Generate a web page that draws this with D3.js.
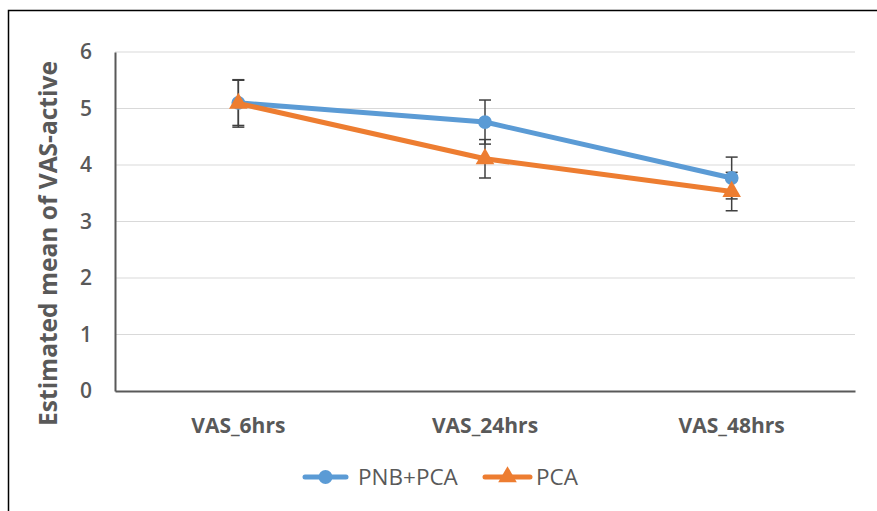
<!DOCTYPE html>
<html>
<head>
<meta charset="utf-8">
<script src="https://cdn.jsdelivr.net/npm/d3@7"></script>
<style>
  body { margin: 0; background: #fff; }
  svg { display: block; }
  svg text { font-family: "Open Sans", "Noto Sans", sans-serif; }
</style>
</head>
<body>
<svg id="chart" width="877" height="511"></svg>
<script>
// data
const categories = ["VAS_6hrs", "VAS_24hrs", "VAS_48hrs"];
const seriesNames = ["PNB+PCA", "PCA"];
const pnbValues = [5.10, 4.76, 3.77];
const pnbErrors = [0.40, 0.39, 0.37];
const pcaValues = [5.09, 4.11, 3.53];
const pcaErrors = [0.42, 0.34, 0.34];
const yTicks = [0, 1, 2, 3, 4, 5, 6];

const series = [
  { name: seriesNames[0], values: pnbValues, errors: pnbErrors, color: "#5B9BD5", marker: "circle" },
  { name: seriesNames[1], values: pcaValues, errors: pcaErrors, color: "#ED7D31", marker: "triangle" }
];

const svg = d3.select("#chart");
const margin = { top: 52, right: 22, bottom: 120, left: 115 };
const width = 877, height = 511;

// outer frame (only left and top visible, rest cropped)
svg.append("rect")
  .attr("x", 8.5).attr("y", 10.5)
  .attr("width", 900).attr("height", 600)
  .attr("fill", "none").attr("stroke", "#000").attr("stroke-width", 1.5);

const x = d3.scaleBand()
  .domain(categories)
  .range([margin.left, width - margin.right]);
const y = d3.scaleLinear()
  .domain([0, 6])
  .range([height - margin.bottom, margin.top]);

// gridlines
svg.append("g")
  .selectAll("line")
  .data(yTicks.filter(d => d > 0))
  .join("line")
  .attr("x1", margin.left).attr("x2", width - margin.right)
  .attr("y1", d => y(d)).attr("y2", d => y(d))
  .attr("stroke", "#d9d9d9").attr("stroke-width", 1);

// y axis
const yAxis = svg.append("g")
  .attr("transform", `translate(${margin.left},0)`)
  .call(d3.axisLeft(y).tickValues(yTicks).tickFormat(d3.format("d")).tickSize(0).tickPadding(23));
yAxis.attr("font-family", null);
yAxis.select(".domain").attr("stroke", "#595959").attr("stroke-width", 2);
yAxis.selectAll("text")
  .attr("fill", "#595959")
  .style("font-size", "21px")
  .style("font-weight", "600");

// x axis
const xAxis = svg.append("g")
  .attr("transform", `translate(0,${height - margin.bottom})`)
  .call(d3.axisBottom(x).tickSize(0).tickPadding(27));
xAxis.attr("font-family", null);
xAxis.select(".domain").attr("stroke", "#595959").attr("stroke-width", 2);
xAxis.selectAll("text")
  .attr("fill", "#595959")
  .style("font-size", "21px")
  .style("font-weight", "bold");

// y label
svg.append("text")
  .attr("transform", `translate(57,${(y(0) + y(6)) / 2 + 22}) rotate(-90)`)
  .attr("text-anchor", "middle")
  .attr("fill", "#595959")
  .style("font-size", "24.5px")
  .style("font-weight", "bold")
  .text("Estimated mean of VAS-active");

const cx = c => x(c) + x.bandwidth() / 2;
const line = d3.line().x((d, i) => cx(categories[i])).y(d => y(d));

// error bars
series.forEach(s => {
  const g = svg.append("g");
  s.values.forEach((v, i) => {
    const px = cx(categories[i]);
    const lo = y(v - s.errors[i]), hi = y(v + s.errors[i]);
    g.append("line").attr("x1", px).attr("x2", px).attr("y1", lo).attr("y2", hi)
      .attr("stroke", "#404040").attr("stroke-width", 1.5);
    [lo, hi].forEach(yy => g.append("line")
      .attr("x1", px - 6).attr("x2", px + 6).attr("y1", yy).attr("y2", yy)
      .attr("stroke", "#404040").attr("stroke-width", 1.5));
  });
});

const circleSym = d3.symbol().type(d3.symbolCircle).size(150);
const triSym = d3.symbol().type(d3.symbolTriangle).size(150);

series.forEach(s => {
  svg.append("path")
    .attr("d", line(s.values))
    .attr("fill", "none")
    .attr("stroke", s.color)
    .attr("stroke-width", 5)
    .attr("stroke-linejoin", "round")
    .attr("stroke-linecap", "round");
  svg.append("g").selectAll("path")
    .data(s.values)
    .join("path")
    .attr("transform", (d, i) => `translate(${cx(categories[i])},${y(d)})`)
    .attr("d", s.marker === "circle" ? circleSym() : triSym())
    .attr("fill", s.color);
});

// legend
const legend = svg.append("g").attr("transform", "translate(0,477)");
const legendItems = [
  { s: series[0], x0: 305, x1: 346, tx: 358 },
  { s: series[1], x0: 485, x1: 530, tx: 536 }
];
legendItems.forEach(it => {
  legend.append("line")
    .attr("x1", it.x0).attr("x2", it.x1).attr("y1", 0).attr("y2", 0)
    .attr("stroke", it.s.color).attr("stroke-width", 5).attr("stroke-linecap", "round");
  legend.append("path")
    .attr("transform", `translate(${(it.x0 + it.x1) / 2},0)`)
    .attr("d", it.s.marker === "circle" ? circleSym() : triSym())
    .attr("fill", it.s.color);
  legend.append("text")
    .attr("x", it.tx).attr("y", 0).attr("dy", "0.35em")
    .attr("fill", "#595959")
    .style("font-size", "22.5px")
    .text(it.s.name);
});
</script>
</body>
</html>
